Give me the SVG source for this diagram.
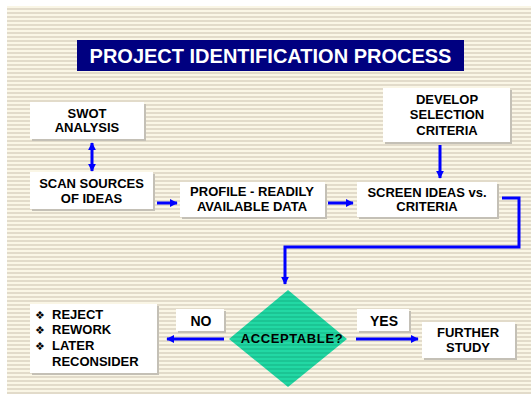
<svg xmlns="http://www.w3.org/2000/svg" width="531" height="394" viewBox="0 0 531 394">
<defs>
<pattern id="bg" width="8" height="4" patternUnits="userSpaceOnUse">
<rect width="8" height="4" fill="#faf6e6"/>
<rect width="8" height="2" fill="#e2dbca"/>
</pattern>
<pattern id="dia" width="8" height="4" patternUnits="userSpaceOnUse">
<rect width="8" height="4" fill="#22d8a4"/>
<rect width="8" height="2" fill="#1bc594"/>
</pattern>
<marker id="ah" viewBox="0 0 10 10" refX="9" refY="5" markerWidth="2.6" markerHeight="2.6" orient="auto-start-reverse" markerUnits="strokeWidth">
<path d="M0,0 L10,5 L0,10 Z" fill="#0000ff"/>
</marker>
</defs>
<style>
.box{fill:#ffffff}
.sh{fill:#c4c0b6}
.t{font-family:"Liberation Sans",Arial,sans-serif;font-weight:bold;font-size:13px;fill:#000;text-anchor:middle}
.lb{font-size:14px}
.bu{text-anchor:start;font-family:"DejaVu Sans",sans-serif;font-size:11px;font-weight:normal}
.c{fill:none;stroke:#0000ff;stroke-width:3}
</style>
<rect x="0" y="0" width="531" height="394" fill="#ffffff"/>
<rect x="7" y="6" width="524" height="388" fill="url(#bg)"/>

<g id="title">
<rect x="77" y="40" width="387" height="31" fill="#000080"/>
<text x="270.5" y="63" class="t" style="font-size:20px;fill:#ffffff">PROJECT IDENTIFICATION PROCESS</text>
</g>

<g id="swot">
<rect x="32" y="104" width="114" height="37" class="sh"/>
<rect x="30" y="102" width="114" height="37" class="box"/>
<text x="87" y="118" class="t">SWOT</text>
<text x="87" y="132" class="t">ANALYSIS</text>
</g>

<g id="scan">
<rect x="32" y="174" width="123" height="37" class="sh"/>
<rect x="30" y="172" width="123" height="37" class="box"/>
<text x="91.5" y="188" class="t">SCAN SOURCES</text>
<text x="91.5" y="203" class="t">OF IDEAS</text>
</g>

<g id="profile">
<rect x="182" y="184" width="145" height="35" class="sh"/>
<rect x="180" y="182" width="145" height="35" class="box"/>
<text x="252" y="196" class="t">PROFILE - READILY</text>
<text x="252" y="211" class="t">AVAILABLE DATA</text>
</g>

<g id="screen">
<rect x="359" y="184" width="140" height="35" class="sh"/>
<rect x="357" y="182" width="140" height="35" class="box"/>
<text x="427" y="197" class="t">SCREEN IDEAS vs.</text>
<text x="427" y="211" class="t">CRITERIA</text>
</g>

<g id="develop">
<rect x="385" y="90" width="127" height="54" class="sh"/>
<rect x="383" y="88" width="127" height="54" class="box"/>
<text x="447" y="104" class="t">DEVELOP</text>
<text x="447" y="119" class="t">SELECTION</text>
<text x="447" y="135" class="t">CRITERIA</text>
</g>

<g id="acceptable">
<polygon points="288,290 347,339 288,387 229,339" fill="url(#dia)"/>
<text x="292" y="343" class="t" style="letter-spacing:0.6px">ACCEPTABLE?</text>
</g>

<g id="no">
<rect x="178" y="311" width="48" height="22" class="sh"/>
<rect x="176" y="309" width="48" height="22" class="box"/>
<text x="201" y="326" class="t lb">NO</text>
</g>

<g id="yes">
<rect x="359" y="311" width="52" height="22" class="sh"/>
<rect x="357" y="309" width="52" height="22" class="box"/>
<text x="384" y="326" class="t lb">YES</text>
</g>

<g id="reject">
<rect x="32" y="306" width="127" height="69" class="sh"/>
<rect x="30" y="304" width="127" height="69" class="box"/>
<text x="35" y="319" class="t bu">❖</text>
<text x="35" y="334" class="t bu">❖</text>
<text x="35" y="350" class="t bu">❖</text>
<text x="52" y="319" class="t" style="text-anchor:start">REJECT</text>
<text x="52" y="334" class="t" style="text-anchor:start">REWORK</text>
<text x="52" y="350" class="t" style="text-anchor:start">LATER</text>
<text x="52" y="366" class="t" style="text-anchor:start">RECONSIDER</text>
</g>

<g id="further">
<rect x="424" y="324" width="93" height="36" class="sh"/>
<rect x="422" y="322" width="93" height="36" class="box"/>
<text x="468" y="337" class="t">FURTHER</text>
<text x="468" y="352" class="t">STUDY</text>
</g>

<g id="connectors">
<line x1="92" y1="143" x2="92" y2="171" class="c" marker-start="url(#ah)" marker-end="url(#ah)"/>
<line x1="157" y1="203" x2="177" y2="203" class="c" marker-end="url(#ah)"/>
<line x1="328" y1="203" x2="353" y2="203" class="c" marker-end="url(#ah)"/>
<line x1="440" y1="145" x2="440" y2="178" class="c" marker-end="url(#ah)"/>
<polyline points="502,198 519,198 519,247 285,247 285,284" class="c" marker-end="url(#ah)"/>
<line x1="224" y1="339" x2="167" y2="339" class="c" marker-end="url(#ah)"/>
<line x1="356" y1="339" x2="418" y2="339" class="c" marker-end="url(#ah)"/>
</g>
</svg>
